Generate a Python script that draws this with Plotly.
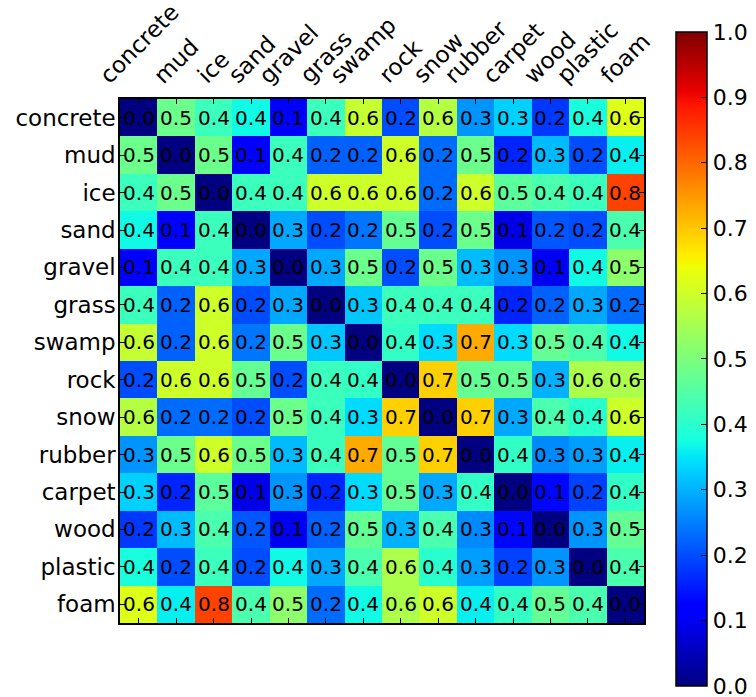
import plotly.graph_objects as go

labels = ["concrete", "mud", "ice", "sand", "gravel", "grass", "swamp",
          "rock", "snow", "rubber", "carpet", "wood", "plastic", "foam"]

# upper triangle rows (distance matrix is symmetric, diagonal = 0)
row_concrete = [0.00, 0.48, 0.42, 0.37, 0.12, 0.42, 0.59, 0.20, 0.57, 0.27, 0.33, 0.18, 0.38, 0.62]
row_mud      = [0.00, 0.48, 0.12, 0.42, 0.22, 0.22, 0.60, 0.23, 0.48, 0.16, 0.31, 0.20, 0.36]
row_ice      = [0.00, 0.42, 0.42, 0.60, 0.60, 0.60, 0.23, 0.60, 0.46, 0.44, 0.42, 0.84]
row_sand     = [0.00, 0.29, 0.20, 0.24, 0.47, 0.20, 0.48, 0.09, 0.21, 0.20, 0.44]
row_gravel   = [0.00, 0.29, 0.48, 0.20, 0.48, 0.31, 0.27, 0.10, 0.37, 0.52]
row_grass    = [0.00, 0.32, 0.42, 0.42, 0.42, 0.16, 0.22, 0.29, 0.23]
row_swamp    = [0.00, 0.41, 0.34, 0.73, 0.34, 0.47, 0.44, 0.37]
row_rock     = [0.00, 0.69, 0.47, 0.47, 0.30, 0.56, 0.56]
row_snow     = [0.00, 0.69, 0.29, 0.44, 0.40, 0.60]
row_rubber   = [0.00, 0.41, 0.26, 0.28, 0.36]
row_carpet   = [0.00, 0.13, 0.19, 0.41]
row_wood     = [0.00, 0.27, 0.47]
row_plastic  = [0.00, 0.44]
row_foam     = [0.00]

upper_rows = [row_concrete, row_mud, row_ice, row_sand, row_gravel, row_grass,
              row_swamp, row_rock, row_snow, row_rubber, row_carpet, row_wood,
              row_plastic, row_foam]

n = len(labels)
z = [[0.0] * n for _ in range(n)]
for i, row in enumerate(upper_rows):
    for k, v in enumerate(row):
        j = i + k
        z[i][j] = v
        z[j][i] = v

colorbar_ticks = [round(0.1 * k, 1) for k in range(11)]

# matplotlib "jet" colormap
jet = [
    [0.000, "rgb(0,0,128)"],
    [0.110, "rgb(0,0,255)"],
    [0.125, "rgb(0,0,255)"],
    [0.340, "rgb(0,219,255)"],
    [0.350, "rgb(0,229,247)"],
    [0.375, "rgb(21,255,226)"],
    [0.640, "rgb(238,255,8)"],
    [0.650, "rgb(247,245,0)"],
    [0.660, "rgb(255,236,0)"],
    [0.890, "rgb(255,19,0)"],
    [0.910, "rgb(232,0,0)"],
    [1.000, "rgb(128,0,0)"],
]

FONT = "DejaVu Sans"

fig = go.Figure(go.Heatmap(
    z=z, x=labels, y=labels,
    zmin=0, zmax=1,
    colorscale=jet,
    texttemplate="%{z:.1f}",
    textfont=dict(family=FONT, size=20, color="black"),
    xgap=0, ygap=0,
    colorbar=dict(
        thickness=31, thicknessmode="pixels",
        len=654, lenmode="pixels",
        x=1.061, xanchor="left", xref="paper",
        y=0.504, yanchor="middle",
        outlinewidth=1.5, outlinecolor="black",
        ticks="inside", ticklen=6, tickwidth=1, tickcolor="black",
        tickvals=colorbar_ticks,
        ticktext=["%.1f" % t for t in colorbar_ticks],
        tickfont=dict(family=FONT, size=22, color="black"),
        ticklabeloverflow="allow",
        xpad=0, ypad=0,
    ),
))

annotations = []
for lab in labels:
    annotations.append(dict(
        x=lab, xref="x", y=1, yref="paper",
        text=lab, textangle=-45, showarrow=False,
        xanchor="center", yanchor="bottom", yshift=8,
        font=dict(family=FONT, size=23, color="black"),
    ))

fig.update_layout(
    width=756, height=697,
    margin=dict(l=120, r=112, t=99, b=74, autoexpand=False),
    paper_bgcolor="white", plot_bgcolor="white",
    font=dict(family=FONT, size=23, color="black"),
    annotations=annotations,
    xaxis=dict(
        side="top", showticklabels=False, ticks="inside", ticklen=5,
        tickwidth=1, tickcolor="black", showline=True, linewidth=1.5,
        linecolor="black", mirror="ticks", showgrid=False, zeroline=False,
        range=[-0.5, n - 0.5],
    ),
    yaxis=dict(
        autorange=False, range=[n - 0.5, -0.5],
        ticks="inside", ticklen=5, tickwidth=1, tickcolor="black",
        showline=True, linewidth=1.5, linecolor="black", mirror="ticks",
        showgrid=False, zeroline=False,
        tickfont=dict(family=FONT, size=23, color="black"),
        ticklabelstandoff=-2,
    ),
)

fig.write_html("out.html")
